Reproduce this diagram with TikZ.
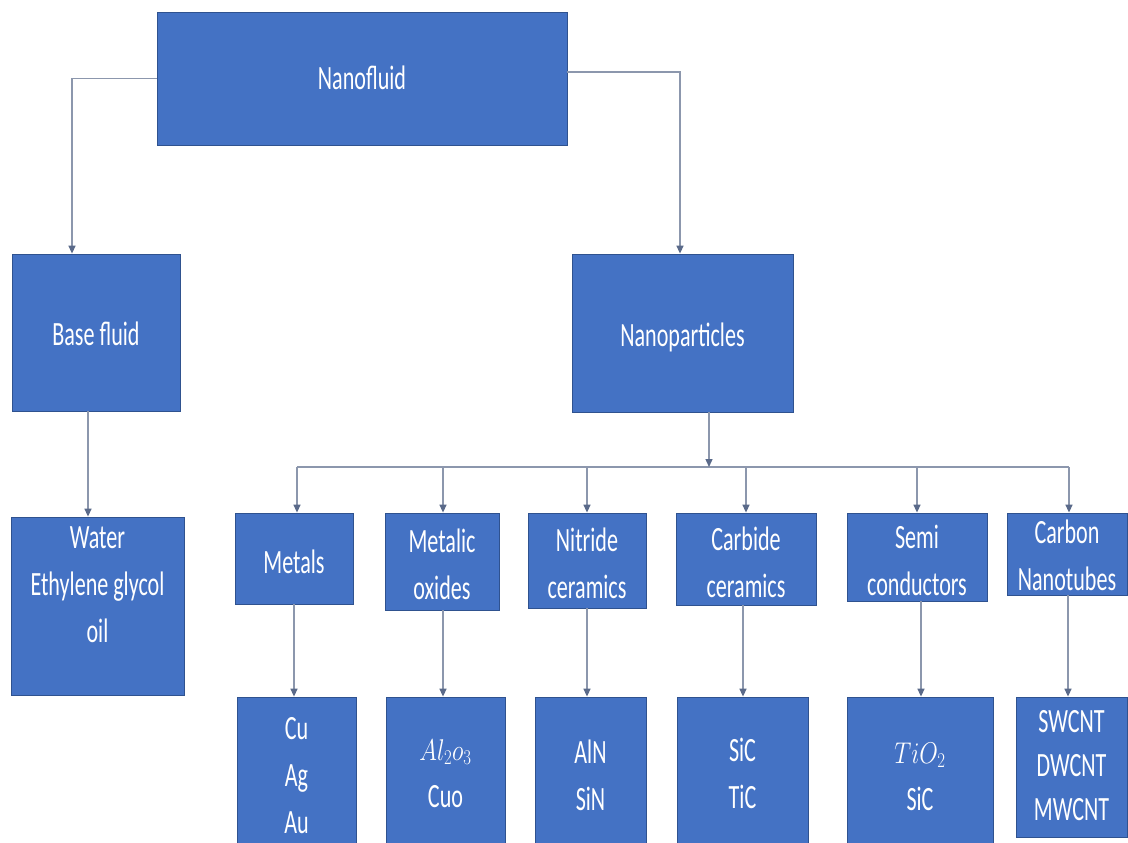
\RequirePackage{fix-cm}
\documentclass[tikz,border=0pt]{standalone}
\usepackage{fontspec}
\setmainfont[FakeStretch=0.65]{Carlito}
\usetikzlibrary{arrows.meta}
\definecolor{boxblue}{HTML}{4472C4}
\definecolor{boxedge}{HTML}{2F528F}
\definecolor{linecol}{HTML}{8C97AD}
\definecolor{tipcol}{HTML}{5A6A8A}
\newcommand{\mathlbl}[1]{\scalebox{0.8}[1]{\fontsize{30}{47}\selectfont$#1$}}
\begin{document}
\begin{tikzpicture}[x=1pt,y=-1pt,
  box/.style={draw=boxedge, line width=0.8pt, fill=boxblue, inner sep=0pt},
  lbl/.style={text=white, align=center, anchor=base, inner sep=0pt, font=\fontsize{34}{47}\selectfont},
  lblt/.style={lbl, font=\fontsize{34}{44}\selectfont},
  wire/.style={draw=linecol, line width=1.4pt},
  conn/.style={wire, -{Triangle[length=8pt,width=7pt,color=tipcol]}}]
\fill[white] (0,0) rectangle (1128,843);
\path[use as bounding box, clip] (0,0) rectangle (1128,843);

% top level
\node[box, minimum width=410, minimum height=133] (nf) at (362,78.5) {};
\node[lbl] (nft) at (362,89) {Nanofluid};

\node[box, minimum width=168, minimum height=157] (bf) at (96,332.5) {};
\node[lbl] (bft) at (96,345) {Base fluid};

\node[box, minimum width=221, minimum height=158] (np) at (682.5,333) {};
\node[lbl] (npt) at (682.5,346) {Nanoparticles};

\node[box, minimum width=173, minimum height=178] (wt) at (97.5,606) {};
\node[lbl] (wtt) at (97.5,642) {Water\\Ethylene glycol\\oil};

% level 2
\node[box, minimum width=118, minimum height=91] (me) at (294,558.5) {};
\node[lbl] (met) at (294,573) {Metals};

\node[box, minimum width=114, minimum height=97] (mo) at (442,561.5) {};
\node[lbl] (mot) at (442,599) {Metalic\\oxides};

\node[box, minimum width=118, minimum height=95] (ni) at (587,560.5) {};
\node[lbl] (nit) at (587,598) {Nitride\\ceramics};

\node[box, minimum width=140, minimum height=92] (ca) at (746,559) {};
\node[lbl] (cat) at (746,597) {Carbide\\ceramics};

\node[box, minimum width=140, minimum height=88] (se) at (917,557) {};
\node[lbl] (set) at (917,595) {Semi\\conductors};

\node[box, minimum width=120, minimum height=82] (cn) at (1067,554) {};
\node[lbl] (cnt) at (1067,590) {Carbon\\Nanotubes};

% level 3
\node[box, minimum width=119, minimum height=158] (la) at (296.5,776) {};
\node[lbl] (lat) at (296.5,833) {Cu\\Ag\\Au};

\node[box, minimum width=119, minimum height=158] (lb) at (445.5,776) {};
\node[lbl] (lbt) at (445.5,807) {\mathlbl{Al_2o_3}\\Cuo};

\node[box, minimum width=111, minimum height=158] (lc) at (590.5,776) {};
\node[lbl] (lct) at (590.5,810) {AlN\\SiN};

\node[box, minimum width=131, minimum height=158] (ld) at (742.5,776) {};
\node[lbl] (ldt) at (742.5,808) {SiC\\TiC};

\node[box, minimum width=146, minimum height=158] (le) at (920,776) {};
\node[lbl] (let) at (920,810) {\mathlbl{TiO_2}\\SiC};

\node[box, minimum width=111, minimum height=140] (lf) at (1071.5,767) {};
\node[lblt] (lft) at (1071.5,820) {SWCNT\\DWCNT\\MWCNT};

% connectors
\draw[conn] (nf.west) -| ([xshift=-24pt]bf.north);
\draw[conn] ([yshift=6.5pt]nf.east) -| ([xshift=-2.5pt]np.north);
\draw[conn] ([xshift=-8pt]bf.south) -- ([xshift=-8pt]bf.south |- wt.north);

\coordinate (busL) at (297,467);
\coordinate (busR) at (1069,467);
\coordinate (busM) at (709,467);
\draw[wire] (busL) -- (busR);
\draw[conn] ([xshift=26.5pt]np.south) -- (busM);

\foreach \n/\dx in {me/3, mo/1, ni/0, ca/0, se/0, cn/2}
  \draw[conn] ([xshift=\dx pt]\n.north |- busL) -- ([xshift=\dx pt]\n.north);

\draw[conn] (me.south) -- (me.south |- la.north);
\draw[conn] ([xshift=1pt]mo.south) -- ([xshift=1pt]mo.south |- lb.north);
\draw[conn] (ni.south) -- (ni.south |- lc.north);
\draw[conn] ([xshift=-3pt]ca.south) -- ([xshift=-3pt]ca.south |- ld.north);
\draw[conn] ([xshift=4pt]se.south) -- ([xshift=4pt]se.south |- le.north);
\draw[conn] ([xshift=1pt]cn.south) -- ([xshift=1pt]cn.south |- lf.north);
\end{tikzpicture}
\end{document}
